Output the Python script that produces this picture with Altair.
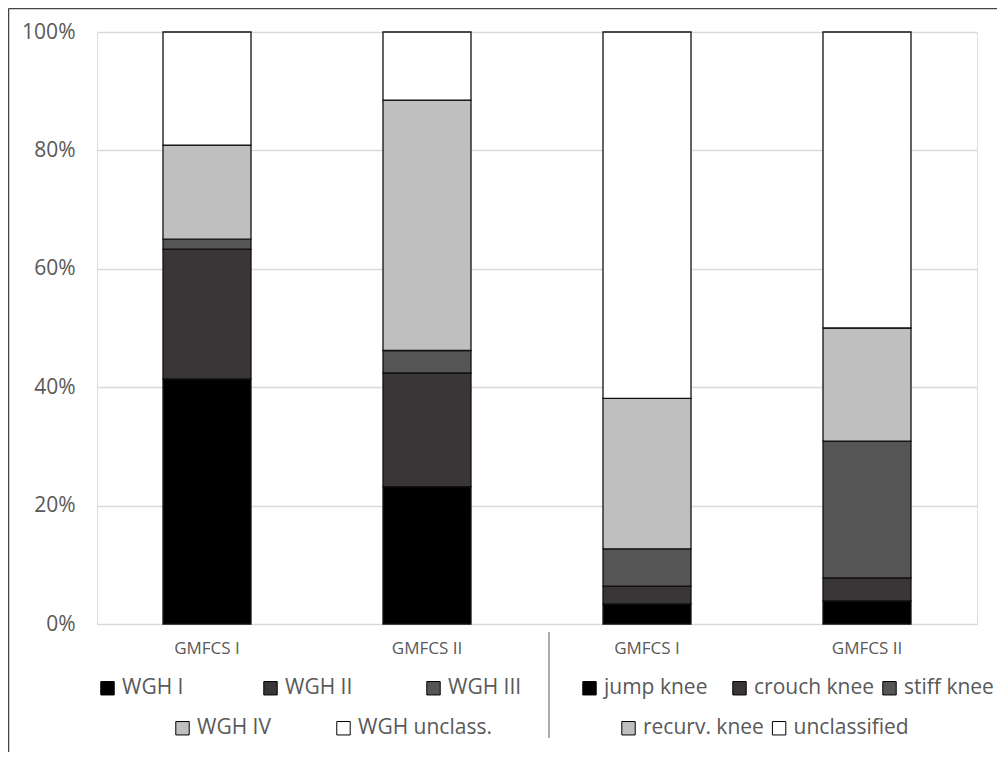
import altair as alt
import pandas as pd

# ---- data ----
groups = ["WGH", "WGH", "knee", "knee"]
gmfcs_labels = ["GMFCS I", "GMFCS II", "GMFCS I", "GMFCS II"]

wgh_categories = ["WGH I", "WGH II", "WGH III", "WGH IV", "WGH unclass."]
knee_categories = ["jump knee", "crouch knee", "stiff knee", "recurv. knee", "unclassified"]

wgh_gmfcs_1 = [41.4, 21.9, 1.7, 15.9, 19.1]
wgh_gmfcs_2 = [23.2, 19.2, 3.8, 42.3, 11.5]
knee_gmfcs_1 = [3.4, 3.0, 6.3, 25.4, 61.9]
knee_gmfcs_2 = [3.9, 3.9, 23.1, 19.1, 50.0]

shades = ["#000000", "#3a3536", "#555555", "#bfbfbf", "#ffffff"]
y_ticks = [0, 20, 40, 60, 80, 100]

series = [wgh_gmfcs_1, wgh_gmfcs_2, knee_gmfcs_1, knee_gmfcs_2]
rows = []
for g, lab, vals in zip(groups, gmfcs_labels, series):
    cats = wgh_categories if g == "WGH" else knee_categories
    for i, (c, v) in enumerate(zip(cats, vals)):
        rows.append({"bar": f"{g}|{lab}", "group": g, "category": c, "order": i, "value": v})
df = pd.DataFrame(rows)
bar_domain = [f"{g}|{l}" for g, l in zip(groups, gmfcs_labels)]

TXT = "#595959"
FONT = "Open Sans"

base = alt.Chart(df).transform_stack(
    stack="value", groupby=["bar"], as_=["y0", "y1"],
    sort=[alt.SortField("order", order="ascending")],
)

x_enc = alt.X(
    "bar:N",
    scale=alt.Scale(domain=bar_domain, paddingInner=0.6, paddingOuter=0.3),
    axis=alt.Axis(title=None, labelExpr="split(datum.label, '|')[1]", domain=False,
                  ticks=False, labelAngle=0, labelFontSize=17, labelColor=TXT,
                  labelFont=FONT, labelPadding=16, grid=False),
)
y_enc = alt.Y(
    "y0:Q",
    scale=alt.Scale(domain=[0, 100]),
    axis=alt.Axis(title=None, values=y_ticks, labelExpr="datum.value + '%'",
                  domain=False, ticks=False, gridColor="#d9d9d9", gridWidth=1.5,
                  labelFontSize=21, labelColor=TXT, labelFont=FONT, labelPadding=22),
)


def bar_layer(cats, idxs, lx, ly, colpad):
    dom = [cats[i] for i in idxs]
    rng = [shades[i] for i in idxs]
    return base.transform_filter(
        alt.FieldOneOfPredicate(field="category", oneOf=dom)
    ).mark_bar(stroke="#111111", strokeWidth=1.3).encode(
        x=x_enc,
        y=y_enc,
        y2=alt.Y2("y1:Q"),
        fill=alt.Fill(
            "category:N",
            scale=alt.Scale(domain=dom, range=rng),
            legend=alt.Legend(
                title=None, orient="none", legendX=lx, legendY=ly,
                direction="horizontal", columns=len(idxs), gridAlign="all",
                columnPadding=colpad, symbolType="square", symbolSize=180,
                symbolStrokeColor="#000000", symbolStrokeWidth=1,
                labelFontSize=21, labelColor=TXT, labelFont=FONT, labelOffset=4,
            ),
        ),
    )


layers = [
    bar_layer(wgh_categories, [0, 1, 2], 0, 645.5, 64),
    bar_layer(wgh_categories, [3, 4], 75, 685.5, 2),
    bar_layer(knee_categories, [0, 1, 2], 482, 645.5, 4),
    bar_layer(knee_categories, [3, 4], 521, 685.5, 4.6),
]

deco = alt.Data(values=[{"k": 1}])
separator = alt.Chart(deco).mark_rule(color="#808080", strokeWidth=1.3).encode(
    x=alt.value(452), y=alt.value(600), y2=alt.value(706))
border_left = alt.Chart(deco).mark_rule(color="#444444", strokeWidth=1.5).encode(
    x=alt.value(-88.5), y=alt.value(-23.5), y2=alt.value(800))
border_top = alt.Chart(deco).mark_rule(color="#444444", strokeWidth=1.5).encode(
    x=alt.value(-88.5), x2=alt.value(1000), y=alt.value(-23.5))

chart = alt.layer(*layers, separator, border_left, border_top).resolve_scale(
    fill="independent"
).properties(
    width=880, height=592,
    autosize=alt.AutoSizeParams(type="none"),
    padding={"left": 89, "top": 24, "right": 20, "bottom": 128},
    background="white",
).configure_view(stroke="transparent").configure_legend(
    padding=0, rowPadding=0, labelFont=FONT, symbolOpacity=1
).configure(font=FONT)

chart.save("out.html", embed_options={"renderer": "svg", "actions": False})
